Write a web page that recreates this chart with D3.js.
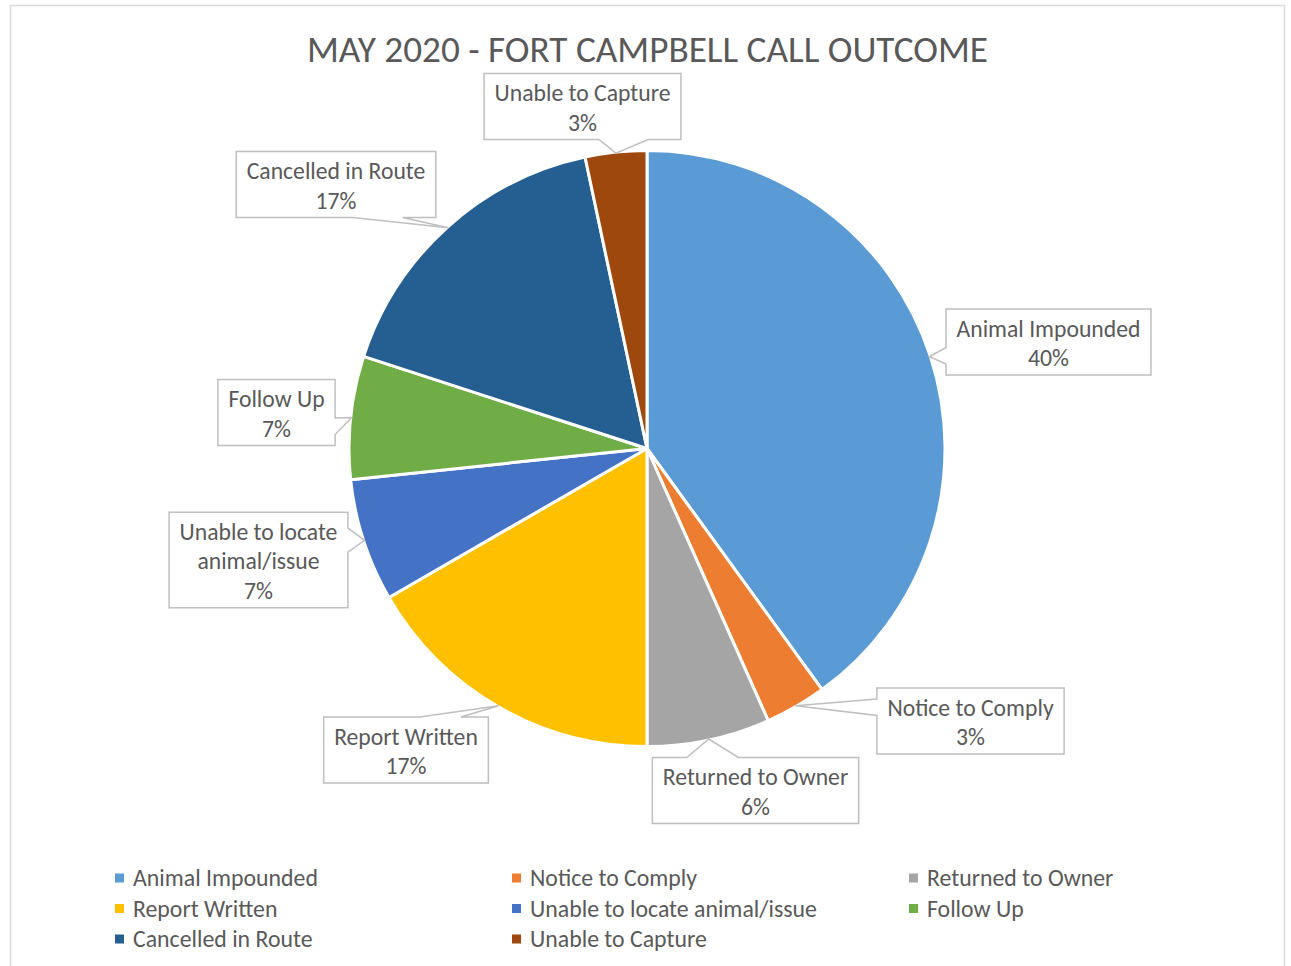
<!DOCTYPE html>
<html>
<head>
<meta charset="utf-8">
<script src="https://cdn.jsdelivr.net/npm/d3@7"></script>
<style>
  body { margin: 0; background: #fff; }
  svg { display: block; }
</style>
</head>
<body>
<script>
// Call outcome counts, May 2020
var categories = ["Animal Impounded", "Notice to Comply", "Returned to Owner", "Report Written",
                  "Unable to locate animal/issue", "Follow Up", "Cancelled in Route", "Unable to Capture"];
var counts = [12, 1, 2, 5, 2, 2, 5, 1];
// percentages as printed on the labels
var percentLabels = ["40%", "3%", "6%", "17%", "7%", "7%", "17%", "3%"];
var colors = ["#5B9BD5", "#ED7D31", "#A5A5A5", "#FFC000", "#4472C4", "#70AD47", "#255E91", "#9E480E"];

// label boxes were dragged by hand in the original -- centers of each callout box
var labelCenters = [[1048.5, 342], [970.5, 721], [755.5, 790.5], [406, 750],
                    [258.5, 560], [276.5, 412.5], [336, 184.5], [582.5, 106.5]];

var W = 1291, H = 966;
var FONT = "Carlito, Calibri, Lato, sans-serif";
var TXT = "#595959";
var cx = 647, cy = 448.5, R = 298;

var svg = d3.select("body").append("svg")
	.attr("width", W)
	.attr("height", H);

// chart frame
svg.append("rect")
	.attr("x", 10.5).attr("y", 5.5)
	.attr("width", 1274).attr("height", 990)
	.attr("fill", "#fff")
	.attr("stroke", "#d9d9d9")
	.attr("stroke-width", 1.5);

// scale a font so a sample string gets the width it has in the picture
function fitSize(str, targetW, base) {
	var t = svg.append("text").style("font-family", FONT).style("font-size", base + "px").text(str);
	var w = t.node().getComputedTextLength();
	t.remove();
	return base * targetW / w;
}
function textWidth(str, size) {
	var t = svg.append("text").style("font-family", FONT).style("font-size", size + "px").text(str);
	var w = t.node().getComputedTextLength();
	t.remove();
	return w;
}

var titleText = "MAY 2020 - FORT CAMPBELL CALL OUTCOME";
var titleSize = fitSize(titleText, 681, 30);
var labelSize = fitSize("Animal Impounded", 184, 20);
var legendSize = fitSize("Animal Impounded", 185, 20);

svg.append("text")
	.attr("x", 647.5).attr("y", 62)
	.attr("text-anchor", "middle")
	.style("font-family", FONT)
	.style("font-size", titleSize + "px")
	.attr("fill", TXT)
	.text(titleText);

// pie
var pie = d3.pie().sort(null).value(function(d) { return d; });
var arcs = pie(counts);
var arc = d3.arc().innerRadius(0).outerRadius(R);

var g = svg.append("g").attr("transform", "translate(" + cx + "," + cy + ")");
g.selectAll("path.slice")
	.data(arcs)
	.enter()
	.append("path")
	.attr("class", "slice")
	.attr("d", arc)
	.attr("fill", function(d, i) { return colors[i]; })
	.attr("stroke", "#fff")
	.attr("stroke-width", 3)
	.attr("stroke-linejoin", "round");

// greedy wrap at a max width
function wrap(str, size, maxW) {
	var words = str.split(" "), lines = [], cur = "";
	words.forEach(function(w) {
		var tryLine = cur ? cur + " " + w : w;
		if (cur && textWidth(tryLine, size) > maxW) { lines.push(cur); cur = w; }
		else cur = tryLine;
	});
	lines.push(cur);
	return lines;
}

// Office wedgeRectCallout outline: rectangle with a pointer running to the tip
function calloutPath(l, t, w, h, tx, ty) {
	var r = l + w, b = t + h, hc = l + w / 2, vc = t + h / 2;
	var dx = tx - hc, dy = ty - vc;
	var dz = Math.abs(dy) - Math.abs(dx * h / w);
	var x1 = l + w * (dx > 0 ? 7 : 2) / 12, x2 = l + w * (dx > 0 ? 10 : 5) / 12;
	var y1 = t + h * (dy > 0 ? 7 : 2) / 12, y2 = t + h * (dy > 0 ? 10 : 5) / 12;
	var p = d3.path();
	p.moveTo(l, t);
	if (dz > 0 && dy < 0) { p.lineTo(x1, t); p.lineTo(tx, ty); p.lineTo(x2, t); }
	p.lineTo(r, t);
	if (dz <= 0 && dx > 0) { p.lineTo(r, y1); p.lineTo(tx, ty); p.lineTo(r, y2); }
	p.lineTo(r, b);
	if (dz > 0 && dy > 0) { p.lineTo(x2, b); p.lineTo(tx, ty); p.lineTo(x1, b); }
	p.lineTo(l, b);
	if (dz <= 0 && dx < 0) { p.lineTo(l, y2); p.lineTo(tx, ty); p.lineTo(l, y1); }
	p.closePath();
	return p.toString();
}

var lineH = 29.5;
arcs.forEach(function(d, i) {
	var lines = wrap(categories[i], labelSize, 200);
	lines.push(percentLabels[i]);
	var maxW = d3.max(lines, function(s) { return textWidth(s, labelSize); });
	var bw = maxW + 21, bh = lines.length * lineH + 7;
	var c = labelCenters[i];
	var l = c[0] - bw / 2, t = c[1] - bh / 2;
	var mid = (d.startAngle + d.endAngle) / 2;
	var tx = cx + (R - 1) * Math.sin(mid), ty = cy - (R - 1) * Math.cos(mid);

	svg.append("path")
		.attr("d", calloutPath(l, t, bw, bh, tx, ty))
		.attr("fill", "#fff")
		.attr("stroke", "#bfbfbf")
		.attr("stroke-width", 1.5);

	var txt = svg.append("text")
		.attr("text-anchor", "middle")
		.style("font-family", FONT)
		.style("font-size", labelSize + "px")
		.attr("fill", TXT);
	lines.forEach(function(s, k) {
		txt.append("tspan")
			.attr("x", c[0])
			.attr("y", t + 27.5 + k * lineH)
			.text(s);
	});
});

// legend, 3 columns filled row by row
var legend = svg.append("g");
var items = legend.selectAll("g")
	.data(categories)
	.enter()
	.append("g")
	.attr("transform", function(d, i) {
		return "translate(" + (115 + (i % 3) * 397) + "," + (878 + Math.floor(i / 3) * 30.5) + ")";
	});
items.append("rect")
	.attr("x", 0).attr("y", -4.5)
	.attr("width", 9).attr("height", 9)
	.attr("fill", function(d, i) { return colors[i]; });
items.append("text")
	.attr("x", 18)
	.attr("dy", "0.35em")
	.style("font-family", FONT)
	.style("font-size", legendSize + "px")
	.attr("fill", TXT)
	.text(function(d) { return d; });
</script>
</body>
</html>
